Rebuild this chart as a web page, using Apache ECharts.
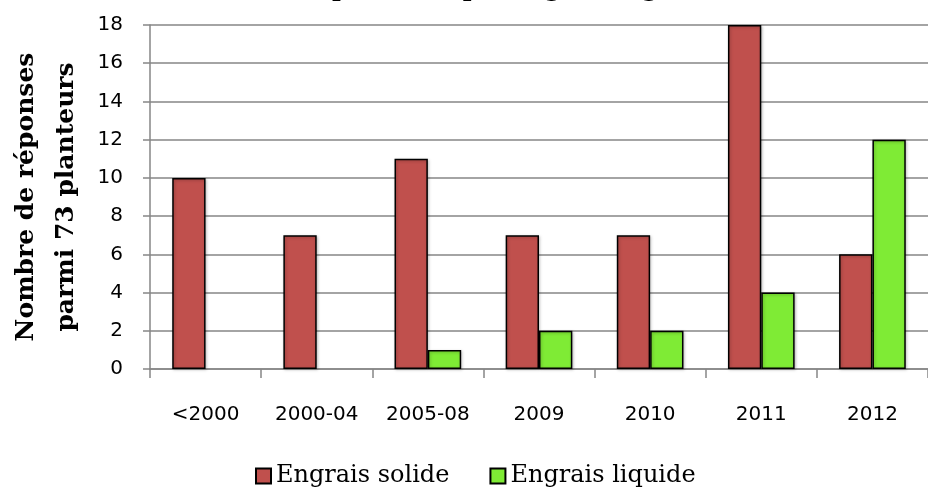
<!DOCTYPE html>
<html>
<head>
<meta charset="utf-8">
<script src="https://cdn.jsdelivr.net/npm/echarts@6/dist/echarts.min.js"></script>
<style>
  html, body { margin: 0; padding: 0; background: #fff; }
  #main { width: 928px; height: 493px; }
</style>
</head>
<body>
<div id="main"></div>
<script>
const categories = ['<2000', '2000-04', '2005-08', '2009', '2010', '2011', '2012'];
const solide = [10, 7, 11, 7, 7, 18, 6];
const liquide = [0, 0, 1, 2, 2, 4, 12];
const seriesNames = ['Engrais solide', 'Engrais liquide'];

const chart = echarts.init(document.getElementById('main'));

const barStyle = function(color) {
    return {
        color: color,
        borderColor: '#000',
        borderWidth: 1.5,
        shadowColor: 'rgba(0,0,0,0.25)',
        shadowBlur: 3,
        shadowOffsetX: 1,
        shadowOffsetY: 1
    };
};

// zero bars are not drawn in the original
const noZero = arr => arr.map(v => v === 0 ? '-' : v);

const option = {
    animation: false,
    title: {
        text: "Date du premier épandage d'engrais",
        left: 'center',
        top: -27,
        textStyle: {
            fontFamily: 'DejaVu Serif',
            fontWeight: 'bold',
            fontSize: 24,
            color: '#000'
        }
    },
    grid: {
        left: 150,
        right: 0,
        top: 25,
        bottom: 124,
        containLabel: false,
        outerBoundsMode: 'none'
    },
    legend: {
        data: seriesNames,
        bottom: 0,
        left: 250,
        itemWidth: 15,
        itemHeight: 15,
        itemGap: 40,
        icon: 'rect',
        textStyle: {
            fontFamily: 'DejaVu Serif',
            fontSize: 24,
            color: '#000'
        }
    },
    xAxis: {
        type: 'category',
        data: categories,
        axisLine: { lineStyle: { color: '#868686', width: 1.5 } },
        axisTick: { show: true, length: 9, lineStyle: { color: '#868686', width: 1.5 } },
        axisLabel: {
            interval: 0,
            hideOverlap: false,
            margin: 36,
            fontFamily: 'DejaVu Sans',
            fontSize: 20,
            color: '#000'
        }
    },
    yAxis: {
        type: 'value',
        min: 0,
        max: 18,
        interval: 2,
        name: 'Nombre de réponses\nparmi 73 planteurs',
        nameLocation: 'middle',
        nameGap: 62,
        nameTextStyle: {
            fontFamily: 'DejaVu Serif',
            fontWeight: 'bold',
            fontSize: 25,
            lineHeight: 40,
            color: '#000'
        },
        axisLine: { show: true, lineStyle: { color: '#868686', width: 1.5 } },
        axisTick: { show: true, length: 7, inside: false, lineStyle: { color: '#868686', width: 1.5 } },
        splitLine: { lineStyle: { color: '#868686', width: 1.5 } },
        axisLabel: {
            margin: 27,
            fontFamily: 'DejaVu Sans',
            fontSize: 20,
            color: '#000'
        }
    },
    series: [
        {
            name: seriesNames[0],
            type: 'bar',
            data: noZero(solide),
            barGap: '0%',
            barCategoryGap: '40%',
            itemStyle: barStyle('#C0504D')
        },
        {
            name: seriesNames[1],
            type: 'bar',
            data: noZero(liquide),
            itemStyle: barStyle('#7FEB35')
        }
    ]
};

chart.setOption(option);
</script>
</body>
</html>
